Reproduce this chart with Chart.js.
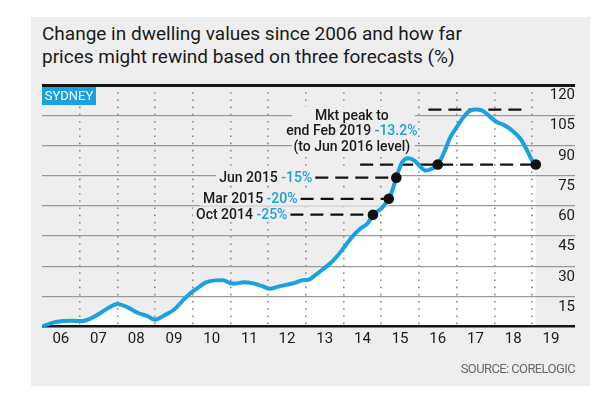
<!DOCTYPE html>
<html>
<head>
<meta charset="utf-8">
<script src="https://cdn.jsdelivr.net/npm/chart.js@4.4.1/dist/chart.umd.min.js"></script>
<style>
    html, body { margin: 0; padding: 0; background: #ffffff; }
    body { width: 600px; height: 415px; position: relative; overflow: hidden; font-family: Roboto, "Noto Sans", sans-serif; }
    #panel { position: absolute; left: 31px; top: 17px; width: 559px; height: 369px; background: #eeeeee; }
    #title { position: absolute; left: 42px; top: 22px; font-size: 19px; line-height: 23px; color: #1a1a1a; white-space: nowrap; }
    #wrap { position: absolute; left: 0; top: 0; width: 600px; height: 415px; }
</style>
</head>
<body>
<div id="panel"></div>
<div id="title">Change in dwelling values since 2006 and how far<br>prices might rewind based on three forecasts (%)</div>
<div id="wrap"><canvas id="grafico" width="600" height="415"></canvas></div>
<script>
// Serie principal: fecha en años decimales y variación acumulada (%)
var fechas = [2006.00, 2006.25, 2006.50, 2006.80, 2007.05, 2007.30, 2007.55, 2007.80, 2008.00, 2008.25,
    2008.55, 2008.80, 2009.00, 2009.25, 2009.50, 2009.75, 2009.95, 2010.15, 2010.35, 2010.60,
    2010.80, 2011.00, 2011.15, 2011.35, 2011.60, 2011.85, 2012.05, 2012.25, 2012.50, 2012.75,
    2012.90, 2013.05, 2013.25, 2013.45, 2013.65, 2013.85, 2014.00, 2014.20, 2014.45, 2014.65,
    2014.78, 2015.00, 2015.20, 2015.30, 2015.40, 2015.55, 2015.72, 2015.88, 2016.00, 2016.18,
    2016.33, 2016.50, 2016.67, 2016.83, 2017.00, 2017.18, 2017.36, 2017.54, 2017.72, 2017.90,
    2018.07, 2018.25, 2018.47, 2018.69, 2018.87, 2019.00, 2019.10];
var valores = [0.0, 1.8, 2.7, 2.9, 2.8, 4.2, 6.8, 9.8, 11.3, 9.8,
    6.8, 5.2, 3.5, 5.7, 8.4, 13.3, 16.8, 19.5, 22.0, 23.0,
    23.1, 21.6, 21.4, 22.1, 21.5, 20.1, 18.8, 19.8, 20.9, 22.0,
    23.1, 23.2, 25.6, 28.5, 31.5, 35.5, 39.0, 44.0, 48.7, 51.5,
    55.6, 58.6, 63.5, 68.0, 74.0, 81.5, 83.6, 82.5, 80.2, 77.5,
    78.3, 80.5, 86.6, 94.0, 99.0, 104.0, 107.3, 107.8, 106.9, 104.0,
    101.5, 100.2, 97.4, 93.3, 87.5, 82.5, 80.5];

var etiquetasAnio = ["06", "07", "08", "09", "10", "11", "12", "13", "14", "15", "16", "17", "18", "19"];
var ticksY = [15, 30, 45, 60, 75, 90, 105, 120];

// Pronósticos: a qué fecha retrocede el precio
var pronosticoTexto = ["Oct 2014", "Mar 2015", "Jun 2015"];
var pronosticoPct = ["-25%", "-20%", "-15%"];
var pronosticoFecha = [2014.78, 2015.20, 2015.40];
var pronosticoValor = [55.6, 63.5, 74.0];
var pronosticoDesde = [2012.59, 2012.86, 2013.25];

// Pico del mercado y nivel actual (igual al de Jun 2016)
var picoDesde = [2016.25, 2018.82];
var picoValor = 107.8;
var nivelDesde = [2014.44, 2019.10];
var nivelValor = 80.5;
var nivelFechas = [2016.50, 2019.10];

var AZUL = "#1ba1e2";
var FONDO = "#eeeeee";
var FUENTE = "Roboto, 'Noto Sans', sans-serif";

function puntos(xs, ys) {
    return xs.map(function (x, i) { return { x: x, y: ys[i] }; });
}

function tramo(xs, v) {
    return {
        data: [{ x: xs[0], y: v }, { x: xs[1], y: v }],
        borderColor: "#111111", borderWidth: 2.3, borderDash: [13, 7],
        pointRadius: 0, fill: false, tension: 0
    };
}

var dots = puntos(pronosticoFecha, pronosticoValor).concat(puntos(nivelFechas, [nivelValor, nivelValor]));

var datasets = [
    { data: dots, showLine: false, pointRadius: 5.3, pointBackgroundColor: "#111111", pointBorderWidth: 0, fill: false },
    {
        data: puntos(fechas, valores), borderColor: AZUL, borderWidth: 4, cubicInterpolationMode: "monotone",
        pointRadius: 0, fill: "origin", backgroundColor: "#ffffff"
    },
    tramo(picoDesde, picoValor),
    tramo(nivelDesde, nivelValor)
];
pronosticoDesde.forEach(function (d, i) {
    datasets.push(tramo([d, pronosticoFecha[i]], pronosticoValor[i]));
});

/** Escribe un texto en tramos de distinto color, alineado a la izquierda, centro o derecha de x. */
function texto(ctx, partes, x, y, align) {
    var total = partes.reduce(function (acc, p) { return acc + ctx.measureText(p[0]).width; }, 0);
    var cx = align === "right" ? x - total : (align === "center" ? x - total / 2 : x);
    partes.forEach(function (p) {
        ctx.fillStyle = p[1];
        ctx.fillText(p[0], cx, y);
        cx += ctx.measureText(p[0]).width;
    });
}

var anotaciones = {
    id: "anotaciones",
    beforeDatasetsDraw: function (chart) {
        var ctx = chart.ctx, sx = chart.scales.x, sy = chart.scales.y;
        ctx.save();
        ctx.font = "500 14px " + FUENTE;
        ctx.fillStyle = FONDO;
        pronosticoTexto.forEach(function (t, i) {
            var fin = sx.getPixelForValue(pronosticoDesde[i]) - 3;
            var ancho = ctx.measureText(t + " " + pronosticoPct[i]).width;
            var py = sy.getPixelForValue(pronosticoValor[i]);
            ctx.fillRect(fin - ancho - 3, py - 7, sx.getPixelForValue(pronosticoFecha[i]) - fin + ancho + 3, 14);
        });
        var cx = sx.getPixelForValue(2014.22);
        var y1 = sy.getPixelForValue(104.6);
        ctx.fillRect(cx - 60, y1 - 9, 123, 47);
        // SYDNEY
        ctx.fillStyle = AZUL;
        ctx.fillRect(chart.chartArea.left, chart.chartArea.top + 2, 54, 18);
        ctx.fillStyle = "#ffffff";
        ctx.font = "13px " + FUENTE;
        ctx.textBaseline = "middle";
        ctx.textAlign = "center";
        ctx.fillText("SYDNEY", chart.chartArea.left + 27, chart.chartArea.top + 11.5);
        ctx.restore();
    },
    afterDatasetsDraw: function (chart) {
        var ctx = chart.ctx, sx = chart.scales.x, sy = chart.scales.y, area = chart.chartArea;
        ctx.save();
        ctx.textBaseline = "middle";
        ctx.textAlign = "left";
        ctx.font = "500 14px " + FUENTE;
        pronosticoTexto.forEach(function (t, i) {
            var fin = sx.getPixelForValue(pronosticoDesde[i]) - 3;
            texto(ctx, [[t + " ", "#1a1a1a"], [pronosticoPct[i], AZUL]], fin, sy.getPixelForValue(pronosticoValor[i]) + 1, "right");
        });
        var cx = sx.getPixelForValue(2014.22);
        var y1 = sy.getPixelForValue(104.6);
        texto(ctx, [["Mkt peak to", "#1a1a1a"]], cx, y1, "center");
        texto(ctx, [["end Feb 2019 ", "#1a1a1a"], ["-13.2%", AZUL]], cx, y1 + 15.5, "center");
        texto(ctx, [["(to Jun 2016 level)", "#1a1a1a"]], cx, y1 + 31, "center");

        ctx.font = "15px " + FUENTE;
        ctx.fillStyle = "#1a1a1a";
        ctx.textAlign = "right";
        ticksY.forEach(function (v) {
            ctx.fillText(String(v), area.right, sy.getPixelForValue(v) + 10.5);
        });
        ctx.font = "13px " + FUENTE;
        ctx.letterSpacing = "-0.6px";
        ctx.fillStyle = "#6a6a6a";
        ctx.fillText("SOURCE: CORELOGIC", area.right, 370);
        ctx.restore();
    }
};

new Chart(document.getElementById("grafico").getContext("2d"), {
    type: "line",
    data: { datasets: datasets },
    plugins: [anotaciones],
    options: {
        responsive: false,
        animation: false,
        layout: { padding: { left: 42, right: 25, top: 85, bottom: 0 } },
        plugins: {
            legend: { display: false },
            tooltip: { enabled: false },
            filler: { drawTime: "beforeDraw" }
        },
        scales: {
            x: {
                type: "linear", min: 2006, max: 2020.14,
                afterBuildTicks: function (s) {
                    s.ticks = etiquetasAnio.map(function (l, i) { return { value: 2006.5 + i }; });
                },
                afterFit: function (s) { s.height = 415 - 326.7; },
                ticks: {
                    autoSkip: false, maxRotation: 0, padding: 4, color: "#1a1a1a",
                    font: { family: FUENTE, size: 15 },
                    callback: function (v, i) { return etiquetasAnio[i]; }
                },
                grid: {
                    offset: true, drawTicks: false, lineWidth: 1.6,
                    color: function (c) {
                        return (c.index === undefined || c.index === 0) ? "rgba(0,0,0,0)" : "#8a8a8a";
                    }
                },
                border: { display: false, dash: [1.6, 5.6] }
            },
            y: {
                position: "right", min: 0, max: 120,
                afterFit: function (s) { s.width = 0; },
                ticks: { stepSize: 15, display: false },
                grid: {
                    drawTicks: false,
                    color: function (c) {
                        var v = c.tick ? c.tick.value : -1;
                        return (v === 0 || v === 120) ? "#151515" : "#9a9a9a";
                    },
                    lineWidth: function (c) {
                        var v = c.tick ? c.tick.value : -1;
                        return v === 120 ? 3 : (v === 0 ? 2.5 : 1.3);
                    }
                },
                border: { display: false }
            }
        }
    }
});
</script>
</body>
</html>
